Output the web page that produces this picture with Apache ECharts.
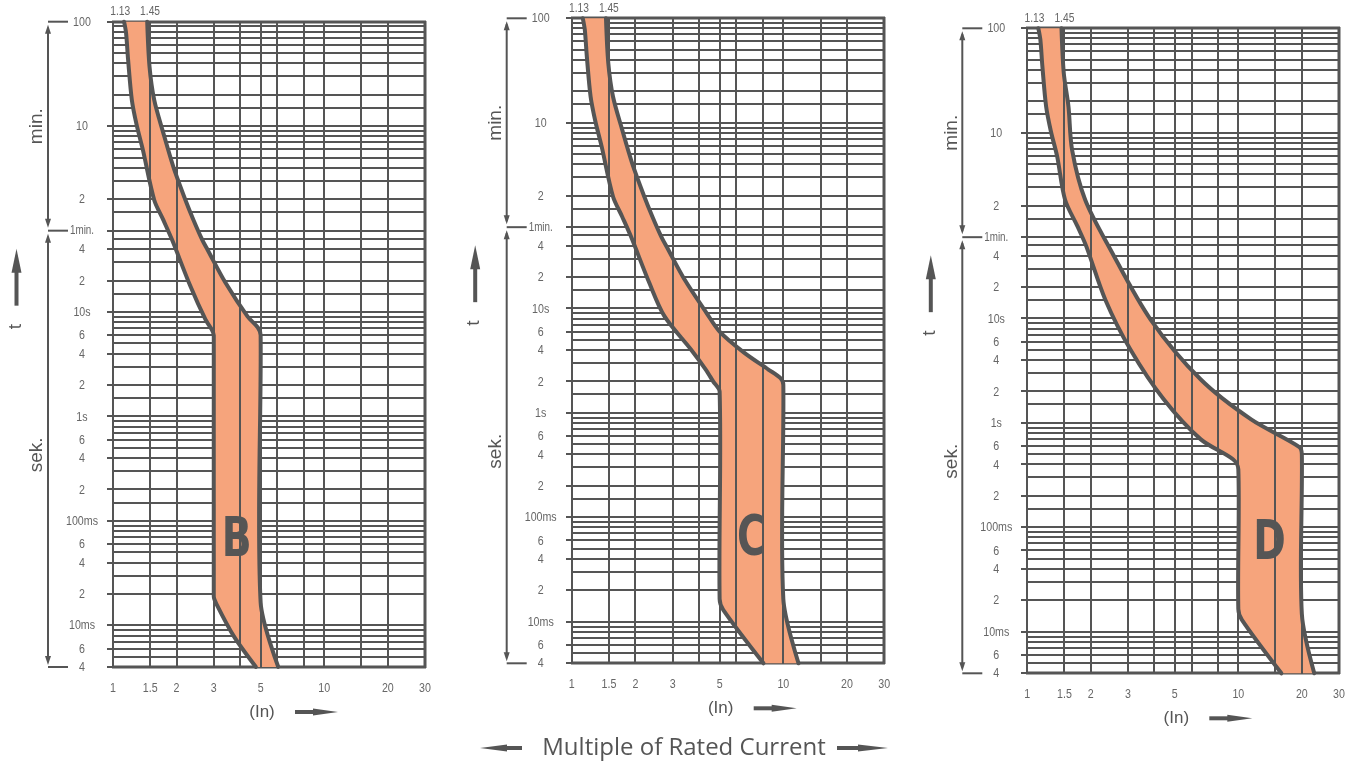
<!DOCTYPE html>
<html><head><meta charset="utf-8">
<script src="https://cdn.jsdelivr.net/npm/echarts@6.0.0/dist/echarts.min.js"></script>
<style>html,body{margin:0;padding:0;background:#fff}#c{width:1361px;height:765px}</style>
</head><body><div id="c"></div>
<script>
// ---------- DATA ----------
const currentMin = 1, currentMax = 30;          // multiple of rated current (In)
const timeMin = 0.004, timeMax = 6000;          // seconds (4 ms .. 100 min)
const gridCurrents = [1, 1.5, 2, 3, 4, 5, 6, 8, 10, 15, 20, 30];
const gridTimes = [
  6000, 5400, 4800, 4200, 3600, 3000, 2400, 1800, 1200, 900, 600, 540, 480, 420, 360, 300, 240, 180, 120, 90, 60,
  50, 40, 30, 20, 15, 10, 9, 8, 7, 6, 5, 4, 3, 2, 1.5, 1,
  0.9, 0.8, 0.7, 0.6, 0.5, 0.4, 0.3, 0.2, 0.15, 0.1,
  0.09, 0.08, 0.07, 0.06, 0.05, 0.04, 0.03, 0.02, 0.01,
  0.009, 0.008, 0.007, 0.006, 0.005, 0.004
];
const xTickValues = [1, 1.5, 2, 3, 5, 10, 20, 30];
const xTickLabels = ["1", "1.5", "2", "3", "5", "10", "20", "30"];
const yTickValues = [6000, 600, 120, 60, 40, 20, 10, 6, 4, 2, 1, 0.6, 0.4, 0.2, 0.1, 0.06, 0.04, 0.02, 0.01, 0.006, 0.004];
const yTickLabels = ["100", "10", "2", "1min.", "4", "2", "10s", "6", "4", "2", "1s", "6", "4", "2", "100ms", "6", "4", "2", "10ms", "6", "4"];
const topMarkValues = [1.13, 1.45];
const topMarkLabels = ["1.13", "1.45"];
const curveNames = ["B", "C", "D"];
const letterPositions = [[3.85, 0.063], [7.06, 0.061], [14.06, 0.069]];

// tripping band boundaries [In, seconds]
const leftB = [[1.128,6000],[1.153,4680],[1.179,2583],[1.228,1070],[1.294,617],[1.385,356],[1.567,118],[1.73,76],[1.904,49],[2.326,17.6],[2.742,8.44],[2.92,6.9],[3.0,6.0],[3.0,0.019],[3.09,0.016],[3.73,0.0079],[4.75,0.004]];
const rightB = [[1.452,6000],[1.489,2230],[1.567,1070],[1.73,518],[1.931,245],[2.202,118],[2.404,76],[2.646,49],[2.803,39.4],[3.415,18.9],[4.332,9.08],[4.85,7.1],[5.0,6.0],[5.0,0.0166],[6.06,0.004]];
const leftC = [[1.128,6000],[1.153,4680],[1.179,2583],[1.228,1070],[1.294,617],[1.385,356],[1.567,118],[1.73,76],[1.904,49],[2.326,17.6],[2.742,8.44],[3.66,4.05],[4.3,2.6],[4.66,2.0],[5.0,1.6],[5.0,0.0165],[5.2,0.013],[8.06,0.004]];
const rightC = [[1.452,6000],[1.489,2230],[1.567,1070],[1.73,518],[1.931,245],[2.202,118],[2.404,76],[2.646,49],[2.803,39.4],[3.415,18.9],[4.332,9.08],[5.0,6.0],[6.5,3.8],[8.5,2.6],[9.7,2.15],[10.0,1.85],[10.0,0.0165],[11.8,0.004]];
const leftD = [[1.128,6000],[1.153,4680],[1.179,2583],[1.228,1070],[1.294,617],[1.385,356],[1.51,137],[1.73,76],[1.904,49],[2.34,15.2],[3.08,5.04],[4.43,1.68],[6.64,0.695],[9.43,0.448],[10.0,0.36],[10.0,0.0165],[10.4,0.013],[16.0,0.004]];
const rightD = [[1.452,6000],[1.489,2230],[1.567,1070],[1.63,412],[1.88,137],[2.48,45.5],[3.84,9.76],[6.64,2.6],[11.5,1.08],[19.4,0.59],[20.0,0.5],[20.0,0.0148],[22.9,0.004]];
const bandLefts = [leftB, leftC, leftD];
const bandRights = [rightB, rightC, rightD];

// ---------- STYLE / LAYOUT ----------
const gridColor = '#555555';
const bandColor = '#F6A47C';
const textColor = '#666666';
const labelFont = "'Liberation Sans', Arial, sans-serif";
const smoothness = 0.3;
const panels = [
  {left: 113, top: 21.7, width: 312, height: 645.3},
  {left: 571.7, top: 18.3, width: 312.6, height: 645},
  {left: 1027.3, top: 28.3, width: 311.7, height: 645}
];

const chart = echarts.init(document.getElementById('c'), null, {renderer: 'canvas'});
const snap = v => Math.round(v);

// smooth cubic segments (same construction as zrender's open smoothBezier)
function bezierSegments(pts, s) {
  const n = pts.length, cps = [];
  for (let i = 0; i < n; i++) {
    if (i === 0 || i === n - 1) { cps.push([pts[i], pts[i]]); continue; }
    const pr = pts[i - 1], nx = pts[i + 1], p = pts[i];
    const vx = (nx[0] - pr[0]) * s, vy = (nx[1] - pr[1]) * s;
    let d0 = Math.hypot(p[0] - pr[0], p[1] - pr[1]), d1 = Math.hypot(p[0] - nx[0], p[1] - nx[1]);
    const sum = d0 + d1;
    if (sum) { d0 /= sum; d1 /= sum; }
    cps.push([[p[0] - vx * d0, p[1] - vy * d0], [p[0] + vx * d1, p[1] + vy * d1]]);
  }
  const segs = [];
  for (let i = 0; i < n - 1; i++) segs.push([pts[i], cps[i][1], cps[i + 1][0], pts[i + 1]]);
  return segs;
}
const f = v => v.toFixed(2);
function pathOpen(pts) {
  const segs = bezierSegments(pts, smoothness);
  let d = 'M' + f(pts[0][0]) + ' ' + f(pts[0][1]);
  segs.forEach(sg => { d += ' C' + f(sg[1][0]) + ' ' + f(sg[1][1]) + ' ' + f(sg[2][0]) + ' ' + f(sg[2][1]) + ' ' + f(sg[3][0]) + ' ' + f(sg[3][1]); });
  return d;
}
function pathBand(lpts, rpts) {
  let d = pathOpen(lpts);
  const segs = bezierSegments(rpts, smoothness);
  const last = rpts[rpts.length - 1];
  d += ' L' + f(last[0]) + ' ' + f(last[1]);
  for (let i = segs.length - 1; i >= 0; i--) {
    const sg = segs[i];
    d += ' C' + f(sg[2][0]) + ' ' + f(sg[2][1]) + ' ' + f(sg[1][0]) + ' ' + f(sg[1][1]) + ' ' + f(sg[0][0]) + ' ' + f(sg[0][1]);
  }
  return d + ' Z';
}

const grids = [], xAxes = [], yAxes = [], series = [];
panels.forEach((p, i) => {
  grids.push({left: p.left, top: p.top, width: p.width, height: p.height, containLabel: false});
  xAxes.push({type: 'log', logBase: 10, min: currentMin, max: currentMax, gridIndex: i,
    axisLine: {show: false}, axisTick: {show: false}, axisLabel: {show: false}, splitLine: {show: false}});
  yAxes.push({type: 'log', logBase: 10, min: timeMin, max: timeMax, gridIndex: i,
    axisLine: {show: false}, axisTick: {show: false}, axisLabel: {show: false}, splitLine: {show: false}});

  // horizontal grid (under band)
  series.push({type: 'custom', xAxisIndex: i, yAxisIndex: i, z: 1, silent: true, clip: false,
    data: gridTimes.map(t => [currentMin, t]),
    renderItem: (params, api) => {
      const t = api.value(1);
      const a = api.coord([currentMin, t]), b = api.coord([currentMax, t]);
      const edge = (t === timeMin || t === timeMax);
      const y = snap(a[1]);
      return {type: 'line', shape: {x1: snap(a[0]) - 1, y1: y, x2: snap(b[0]) + 1, y2: y},
        style: {stroke: gridColor, lineWidth: edge ? 3 : 2}};
    }});
  // band fill
  series.push({type: 'custom', xAxisIndex: i, yAxisIndex: i, z: 2, silent: true, clip: false,
    data: [[currentMin, timeMin]],
    renderItem: (params, api) => ({type: 'path',
      shape: {pathData: pathBand(bandLefts[i].map(pt => api.coord(pt)), bandRights[i].map(pt => api.coord(pt)))},
      style: {fill: bandColor, stroke: null}})
  });
  // vertical grid (over band)
  series.push({type: 'custom', xAxisIndex: i, yAxisIndex: i, z: 3, silent: true, clip: false,
    data: gridCurrents.map(c => [c, timeMin]),
    renderItem: (params, api) => {
      const c = api.value(0);
      const a = api.coord([c, timeMin]), b = api.coord([c, timeMax]);
      const x = snap(a[0]);
      return {type: 'line', shape: {x1: x, y1: snap(a[1]) + 1, x2: x, y2: snap(b[1]) - 1},
        style: {stroke: gridColor, lineWidth: c === currentMax ? 3 : 2}};
    }});
  // band outlines
  [bandLefts[i], bandRights[i]].forEach(curve => {
    series.push({type: 'custom', xAxisIndex: i, yAxisIndex: i, z: 4, silent: true, clip: false,
      data: [[currentMin, timeMin]],
      renderItem: (params, api) => ({type: 'path',
        shape: {pathData: pathOpen(curve.map(pt => api.coord(pt)))},
        style: {stroke: gridColor, lineWidth: 4, fill: null, lineJoin: 'round', lineCap: 'round'}})
    });
  });
});

chart.setOption({animation: false, backgroundColor: '#ffffff', grid: grids, xAxis: xAxes, yAxis: yAxes, series: series});

// ---------- labels & decorations positioned from the axes ----------
const gfx = [];
function line(x1, y1, x2, y2, w) {
  gfx.push({type: 'line', shape: {x1, y1, x2, y2}, style: {stroke: gridColor, lineWidth: w || 2}, z: 10});
}
function poly(points) {
  gfx.push({type: 'polygon', shape: {points}, style: {fill: gridColor}, z: 10});
}
function text(x, y, str, size, opt) {
  opt = opt || {};
  gfx.push({type: 'text', x, y, rotation: opt.rot || 0, scaleX: opt.sx || 1, scaleY: opt.sy || 1, z: 11,
    style: {text: str, fontSize: size, fill: opt.color || '#555555', align: 'center', verticalAlign: 'middle',
      fontWeight: opt.weight || 'normal', fontFamily: opt.family || labelFont}});
}
panels.forEach((p, i) => {
  const px = v => chart.convertToPixel({gridIndex: i}, v);
  const top = px([currentMin, timeMax]);
  const oneMin = px([currentMin, 60]);
  const bot = px([currentMin, timeMin]);
  const x0 = top[0], yT = top[1], y1 = oneMin[1], yB = bot[1];

  // y tick labels + short ticks
  yTickValues.forEach((v, k) => {
    const q = px([currentMin, v]);
    gfx.push({type: 'rect', shape: {x: snap(q[0]) - 6, y: snap(q[1]) - 1, width: 6, height: 2}, style: {fill: gridColor}, z: 10});
    text(q[0] - 31, q[1] + 0.5, yTickLabels[k], yTickLabels[k] === '1min.' ? 12 : 13, {sx: 0.82, color: textColor});
  });
  // x tick labels
  xTickValues.forEach((v, k) => {
    const q = px([v, timeMin]);
    text(q[0], q[1] + 21, xTickLabels[k], 13, {sx: 0.82, color: textColor});
  });
  // 1.13 / 1.45 marks
  topMarkValues.forEach((v, k) => {
    const q = px([v, timeMax]);
    text(q[0] + (k === 0 ? -4 : 3), q[1] - 10, topMarkLabels[k], 12.5, {sx: 0.82, color: textColor});
  });
  // curve letter
  const lp = px(letterPositions[i]);
  text(lp[0], lp[1], curveNames[i], 56, {sx: 0.7, weight: 'bold', color: '#555555', family: "'DejaVu Sans', sans-serif"});

  const ax = x0 - 65, arm = x0 - 45;
  // min. bracket
  line(ax, yT, arm, yT);
  line(ax, yT + 6, ax, y1 - 6);
  poly([[ax, yT + 3], [ax - 3, yT + 12], [ax + 3, yT + 12]]);
  poly([[ax, y1 - 3], [ax - 3, y1 - 12], [ax + 3, y1 - 12]]);
  line(ax, y1, arm, y1);
  // sek. bracket
  line(ax, y1 + 6, ax, yB - 6);
  poly([[ax, y1 + 3], [ax - 3, y1 + 12], [ax + 3, y1 + 12]]);
  poly([[ax, yB - 2], [ax - 3, yB - 11], [ax + 3, yB - 11]]);
  line(ax, yB, arm, yB);
  text(x0 - 76, (yT + y1) / 2, 'min.', 19, {rot: Math.PI / 2});
  text(x0 - 76, (y1 + yB) / 2 + 6, 'sek.', 19, {rot: Math.PI / 2});
  // t arrow
  const tx = x0 - 96.5;
  line(tx, y1 + 75, tx, y1 + 36, 4);
  poly([[tx, y1 + 18], [tx - 5, y1 + 42], [tx + 5, y1 + 42]]);
  text(tx - 1, y1 + 96, 't', 19, {rot: Math.PI / 2});
  // (In) arrow
  const iy = yB + 45;
  text(x0 + 149, iy, '(In)', 17);
  line(x0 + 182, iy, x0 + 205, iy, 4);
  poly([[x0 + 200, iy - 3.5], [x0 + 225, iy], [x0 + 200, iy + 3.5]]);
});
// bottom title with arrows
text(684, 748, 'Multiple of Rated Current', 24, {family: "'Open Sans', 'Liberation Sans', sans-serif"});
line(503, 748, 522, 748, 4);
poly([[480, 748], [507, 744.5], [507, 751.5]]);
line(837, 748, 862, 748, 4);
poly([[888, 748], [858, 744.5], [858, 751.5]]);

chart.setOption({graphic: gfx});
</script>
</body></html>
